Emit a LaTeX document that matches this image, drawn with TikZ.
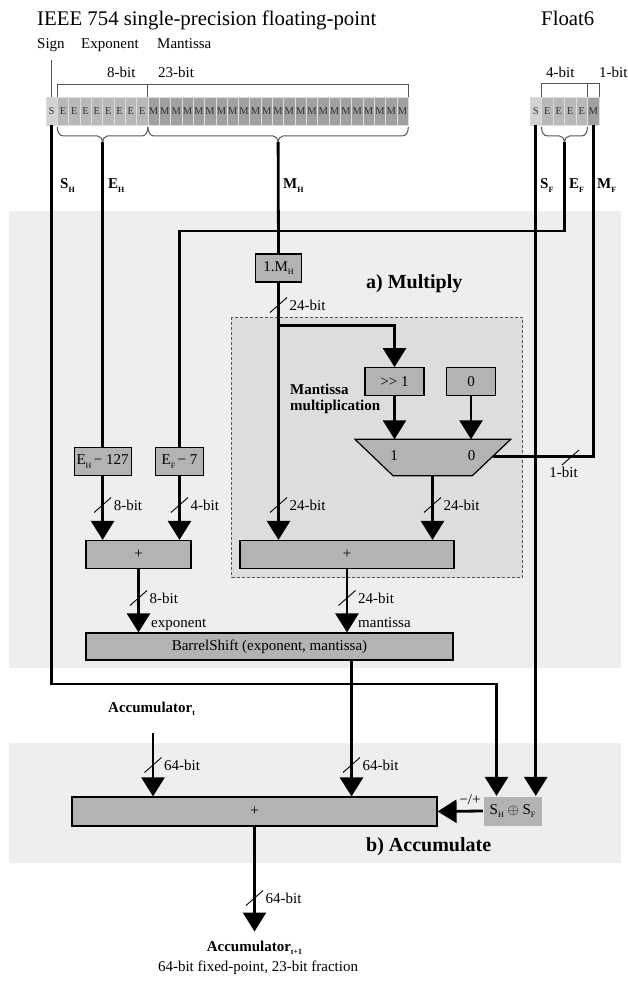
\documentclass[tikz,border=0pt]{standalone}
\usepackage{fontspec}
\setmainfont{Liberation Serif}
\usetikzlibrary{arrows.meta}

\definecolor{bandgray}{HTML}{EEEEEE}
\definecolor{innergray}{HTML}{DDDDDD}
\definecolor{boxgray}{HTML}{B3B3B3}
\definecolor{cellS}{HTML}{D2D2D2}
\definecolor{cellE}{HTML}{B8B8B8}
\definecolor{cellM}{HTML}{A0A0A0}
\definecolor{cellline}{HTML}{DCDCDC}
\definecolor{bracegray}{HTML}{555555}
\definecolor{celltext}{HTML}{333333}

\newcommand\lblfont{\fontsize{15}{18}\selectfont}
\newcommand\titlefont{\fontsize{20.8}{24}\selectfont}
\newcommand\cellfont{\fontsize{10.5}{11}\selectfont}
\newcommand\secfont{\fontsize{20}{24}\selectfont\bfseries}
\newcommand\sbs[1]{\raisebox{-0.22em}{\fontsize{8}{8}\selectfont #1}}
\newcommand\bsig[2]{\textbf{#1}\sbs{\bfseries #2}}

\tikzset{
  bus/.style={line width=2.8pt, line join=miter},
  feed/.style={bus, -{Triangle[width=23pt,length=19pt]}},
  opbox/.style={draw=black, line width=1.2pt, fill=boxgray, minimum height=28pt,
    inner sep=0pt, font=\lblfont},
  txt/.style={inner sep=0pt, anchor=base west, font=\lblfont},
  ctxt/.style={inner sep=0pt, anchor=base, font=\lblfont},
  bracket/.style={draw=bracegray, line width=1pt},
  pics/bw/.style={code={
    \draw[line width=0.9pt] (-8.5,7.5) -- (8.5,-7.5);
    \node[inner sep=0pt, anchor=west, font=\lblfont] at (11,0) {#1};
  }},
}

\begin{document}
\begin{tikzpicture}[x=1pt,y=-1pt]
\useasboundingbox (0,0) rectangle (627,981);

% stage backgrounds
\fill[bandgray] (9,211) rectangle (621,668);
\fill[bandgray] (9,743) rectangle (621,863);
\draw[innergray, fill=innergray] (231.5,317) rectangle (522,577);
\draw[bracegray, line width=0.9pt, dash pattern=on 3pt off 2pt] (231.5,317) rectangle (522,577);

% headings
\node[txt, font=\titlefont] (ttl) at (37,26) {IEEE 754 single-precision floating-point};
\node[txt, font=\titlefont] (ttf) at (541,26) {Float6};
\node[txt] (lsign) at (37,49) {Sign};
\node[txt] (lexp) at (81,49) {Exponent};
\node[txt] (lman) at (157,49) {Mantissa};
\node[txt] (l8) at (107,78) {8-bit};
\node[txt] (l23) at (158,78) {23-bit};
\node[txt] (l4) at (546,78) {4-bit};
\node[txt] (l1) at (599,78) {1-bit};

% single-precision bit fields
\foreach \i in {0,...,31}{
  \pgfmathsetmacro\cx{46+11.32*\i}
  \ifnum\i=0 \def\cc{cellS}\def\ct{S}\else
    \ifnum\i<9 \def\cc{cellE}\def\ct{E}\else \def\cc{cellM}\def\ct{M}\fi\fi
  \path[fill=\cc, draw=cellline, line width=0.6pt] (\cx,97) rectangle ++(11.32,28);
  \node[inner sep=0pt, font=\cellfont, text=celltext] at (\cx+5.66,111.5) {\ct};
}
% Float6 bit fields
\foreach \i/\cc/\ct in {0/cellS/S,1/cellE/E,2/cellE/E,3/cellE/E,4/cellE/E,5/cellM/M}{
  \pgfmathsetmacro\cx{530+11.5*\i}
  \path[fill=\cc, draw=cellline, line width=0.6pt] (\cx,97) rectangle ++(11.5,28);
  \node[inner sep=0pt, font=\cellfont, text=celltext] at (\cx+5.75,111.5) {\ct};
}

% field brackets above the words
\draw[bracket] (57.3,97) -- (57.3,85) -- (408.3,85) -- (408.3,97);
\draw[bracket] (147.9,85) -- (147.9,97);
\draw[bracket] (541.5,97) -- (541.5,84) -- (599,84) -- (599,97);
\draw[bracket] (587.5,84) -- (587.5,97);
\draw[bracket] (51.5,60) -- (51.5,97);

% braces gathering the fields below the words
\foreach \a/\m/\b in {57.3/102.6/147.9, 147.9/278.1/408.3, 541.5/564.5/587.5}{
  \draw[bracket] (\a,127) to[out=-90,in=180] (\a+6,136) -- (\m-5,136)
    to[out=0,in=90] (\m,142) to[out=90,in=180] (\m+5,136) -- (\b-6,136)
    to[out=0,in=-90] (\b,127);
}
\coordinate (stip) at (51.5,125);
\coordinate (ehtip) at (102.6,142);
\coordinate (mhtip) at (278.1,142);
\coordinate (sftip) at (535.75,125);
\coordinate (eftip) at (564.5,142);
\coordinate (mftip) at (593.25,125);

% signal names
\node[txt] (nsh) at (60,189) {\bsig{S}{H}};
\node[txt] (neh) at (108,189) {\bsig{E}{H}};
\node[txt] (nmh) at (283,189) {\bsig{M}{H}};
\node[txt] (nsf) at (540,189) {\bsig{S}{F}};
\node[txt] (nef) at (569,189) {\bsig{E}{F}};
\node[txt] (nmf) at (597,189) {\bsig{M}{F}};

% multiply stage blocks
\node[opbox, minimum width=46pt] (mh) at (278.5,268) {1.M\sbs{H}};
\node[opbox, minimum width=59pt] (shr) at (394.5,381.7) {>{}> 1};
\node[opbox, minimum width=49pt] (zr) at (471,381.7) {0};
\draw[line width=1.2pt, fill=boxgray] (355,439.3) -- (510.7,439.3) -- (472.3,475.7) -- (393,475.7) -- cycle;
\node[font=\lblfont, inner sep=0pt] (mux1l) at (394,456) {1};
\node[font=\lblfont, inner sep=0pt] (mux0l) at (471.5,456) {0};
\coordinate (mux1) at (394.5,439.3);
\coordinate (mux0) at (471,439.3);
\coordinate (muxo) at (432.5,475.7);
\coordinate (muxr) at (493,456.7);
\node[opbox, minimum width=57pt] (eh) at (102.6,461.5) {E\sbs{H}\,− 127};
\node[opbox, minimum width=48pt] (ef) at (179.5,461.5) {E\sbs{F}\,− 7};
\node[opbox, minimum width=105pt] (ae) at (138.5,554.5) {+};
\node[opbox, minimum width=214pt] (am) at (347,554.5) {+};
\node[opbox, minimum width=367pt, minimum height=27pt] (bs) at (269.5,646.5) {BarrelShift (exponent, mantissa)};

\node[txt, font=\secfont] (secA) at (366,288) {a) Multiply};
\node[txt, font=\lblfont\bfseries] (mmul1) at (290,394) {Mantissa};
\node[txt, font=\lblfont\bfseries] (mmul2) at (290,410.5) {multiplication};

% accumulate stage blocks
\node[opbox, minimum width=365pt, minimum height=29pt] (ac) at (254.5,811.5) {+};
\node[opbox, draw=none, minimum width=58pt, minimum height=29pt] (sx) at (512.5,811) {S\sbs{H} $\oplus$ S\sbs{F}};
\node[txt, font=\secfont] (secB) at (366,851) {b) Accumulate};
\node[txt] (acct) at (108,712) {\bsig{Accumulator}{t}};
\coordinate (acctop) at (153,733);
\coordinate (accout) at (254.5,931.5);
\node[ctxt] (accn) at (254.5,951) {\bsig{Accumulator}{t+1}};
\node[ctxt] (accd) at (258,971.5) {64-bit fixed-point, 23-bit fraction};

% wiring
\coordinate (eflane) at (179.5,231);
\coordinate (sturn) at (496.5,684);
\coordinate (br) at (278.5,325.7);
\draw[bus] (ehtip) -- (eh.north);
\draw[bus] (eftip) |- (eflane) -- (ef.north);
\draw[bus] (mhtip) -- (mh.north);
\draw[feed] (mh.south) -- (mh.south |- am.north);
\draw[feed] (br) -| (shr.north);
\draw[feed] (shr.south) -- (mux1);
\draw[feed] (zr.south) -- (mux0);
\draw[bus] (mftip) |- (muxr);
\draw[feed] (muxo) -- (muxo |- am.north);
\draw[feed] (eh.south) -- (eh.south |- ae.north);
\draw[feed] (ef.south) -- (ef.south |- ae.north);
\draw[feed] (ae.south) -- (ae.south |- bs.north);
\draw[feed] (am.south) -- (am.south |- bs.north);
\draw[feed] ([xshift=82pt]bs.south) -- ([xshift=82pt]bs.south |- ac.north);
\draw[feed] (stip) |- (sturn) -- (sturn |- sx.north);
\draw[feed] (sftip) -- (sftip |- sx.north);
\draw[feed] (acctop) -- (acctop |- ac.north);
\draw[feed] (sx.west) -- (ac.east);
\draw[feed] (ac.south) -- (accout);

% bus widths
\pic at (278.5,305) {bw=24-bit};
\pic at (102.6,505) {bw=8-bit};
\pic at (179.5,505) {bw=4-bit};
\pic at (278.5,505) {bw=24-bit};
\pic at (432.5,505) {bw=24-bit};
\pic at (138.5,598) {bw=8-bit};
\pic at (347,598) {bw=24-bit};
\pic at (153,765) {bw=64-bit};
\pic at (351.5,765) {bw=64-bit};
\pic at (254.5,898) {bw=64-bit};
\draw[line width=0.9pt] (562,465) -- (579,450);
\node[ctxt] (l1b) at (563.5,477) {1-bit};
\node[txt] (lexpo) at (151,627) {exponent};
\node[txt] (lmant) at (358,627) {mantissa};
\node[inner sep=0pt, font=\lblfont] (sgn) at (470,800) {−/+};
\end{tikzpicture}
\end{document}
